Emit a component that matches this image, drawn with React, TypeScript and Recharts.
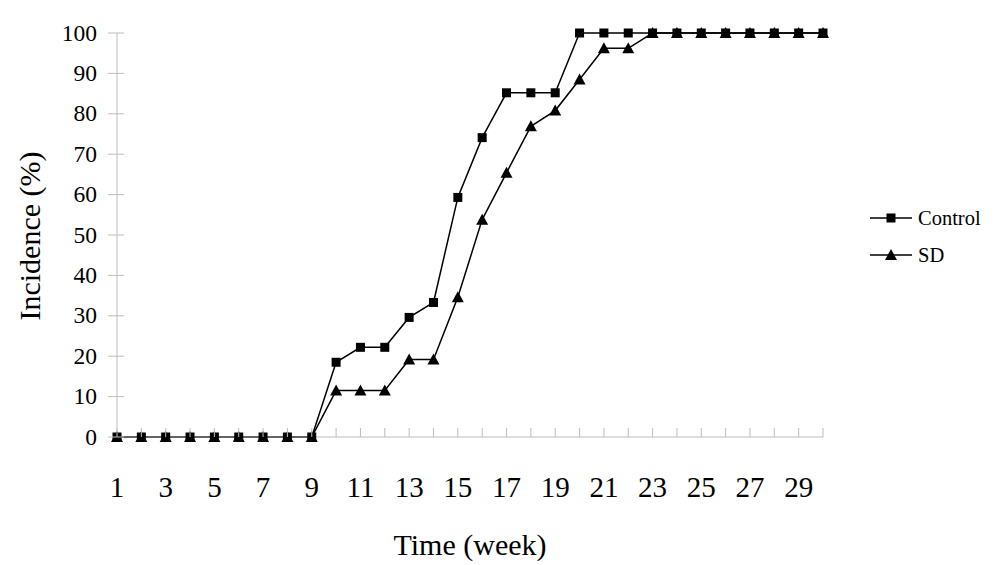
import React from 'react';
import { LineChart, Line, XAxis, YAxis } from 'recharts';

const weeks = [1, 2, 3, 4, 5, 6, 7, 8, 9, 10, 11, 12, 13, 14, 15, 16, 17, 18, 19, 20, 21, 22, 23, 24, 25, 26, 27, 28, 29, 30];
const controlValues = [0, 0, 0, 0, 0, 0, 0, 0, 0, 18.5, 22.2, 22.2, 29.6, 33.3, 59.3, 74.1, 85.2, 85.2, 85.2, 100, 100, 100, 100, 100, 100, 100, 100, 100, 100, 100];
const sdValues = [0, 0, 0, 0, 0, 0, 0, 0, 0, 11.5, 11.5, 11.5, 19.2, 19.2, 34.6, 53.8, 65.4, 76.9, 80.8, 88.5, 96.2, 96.2, 100, 100, 100, 100, 100, 100, 100, 100];
const yTicks = [0, 10, 20, 30, 40, 50, 60, 70, 80, 90, 100];

const FONT = '"Liberation Serif", "Times New Roman", serif';
const AXIS_GRAY = '#bdbdbd';
const serif = { fontFamily: FONT };

const chartData = weeks.map((w, i) => ({ week: w, control: controlValues[i], sd: sdValues[i] }));

const SquareDot = (props: any) => {
  const { cx, cy } = props;
  if (cx == null || cy == null) return null;
  return <rect x={cx - 4.5} y={cy - 4.5} width={9} height={9} fill="#000" />;
};

const TriangleDot = (props: any) => {
  const { cx, cy } = props;
  if (cx == null || cy == null) return null;
  return <polygon points={`${cx},${cy - 6} ${cx - 6},${cy + 5} ${cx + 6},${cy + 5}`} fill="#000" />;
};

const XTick = (props: any) => {
  const { x, y, payload } = props;
  const v = Number(payload.value);
  return (
    <g>
      <line x1={x} y1={y} x2={x} y2={y - 9} stroke={AXIS_GRAY} strokeWidth={1} />
      {v % 2 === 1 && (
        <text x={x} y={y + 60} textAnchor="middle" fontSize={29} style={serif} fill="#000">
          {v}
        </text>
      )}
    </g>
  );
};

const YTick = (props: any) => {
  const { x, y, payload } = props;
  return (
    <g>
      <line x1={x - 9} y1={y} x2={x + 7} y2={y} stroke={AXIS_GRAY} strokeWidth={1} />
      <text x={x - 20} y={y + 7.5} textAnchor="end" fontSize={23.5} style={serif} fill="#000">
        {payload.value}
      </text>
    </g>
  );
};

export default function App() {
  return (
    <div style={{ position: 'absolute', left: 0, top: 0, width: 1000, height: 565, background: '#fff', fontFamily: FONT }}>
      <LineChart
        width={1000}
        height={565}
        data={chartData}
        margin={{ top: 33, right: 177, bottom: 0, left: 0 }}
      >
        <XAxis
          dataKey="week"
          type="category"
          interval={0}
          height={128}
          tickSize={0}
          tickMargin={0}
          tickLine={false}
          axisLine={{ stroke: AXIS_GRAY }}
          tick={<XTick />}
        />
        <YAxis
          type="number"
          domain={[0, 100]}
          ticks={yTicks}
          interval={0}
          width={117}
          tickSize={0}
          tickMargin={0}
          tickLine={false}
          axisLine={{ stroke: AXIS_GRAY }}
          tick={<YTick />}
        />
        <Line
          dataKey="sd"
          name="SD"
          stroke="#000"
          strokeWidth={1.5}
          dot={<TriangleDot />}
          activeDot={false}
          isAnimationActive={false}
        />
        <Line
          dataKey="control"
          name="Control"
          stroke="#000"
          strokeWidth={1.5}
          dot={<SquareDot />}
          activeDot={false}
          isAnimationActive={false}
        />
      </LineChart>
      <svg width={130} height={70} style={{ position: 'absolute', left: 868, top: 203 }}>
        <line x1={2} y1={15} x2={44} y2={15} stroke="#000" strokeWidth={1.5} />
        <rect x={18.5} y={10.5} width={9} height={9} fill="#000" />
        <text x={50} y={22} fontSize={20.5} style={serif} fill="#000">Control</text>
        <line x1={2} y1={52} x2={44} y2={52} stroke="#000" strokeWidth={1.5} />
        <polygon points="23,46 17,57 29,57" fill="#000" />
        <text x={50} y={59} fontSize={20.5} style={serif} fill="#000">SD</text>
      </svg>
      <div
        style={{
          position: 'absolute',
          left: 30,
          top: 236,
          transform: 'translate(-50%, -50%) rotate(-90deg)',
          fontSize: 30,
          whiteSpace: 'nowrap',
          color: '#000',
        }}
      >
        Incidence (%)
      </div>
      <div
        style={{
          position: 'absolute',
          left: 470,
          top: 545,
          transform: 'translate(-50%, -50%)',
          fontSize: 30,
          whiteSpace: 'nowrap',
          color: '#000',
        }}
      >
        Time (week)
      </div>
    </div>
  );
}
